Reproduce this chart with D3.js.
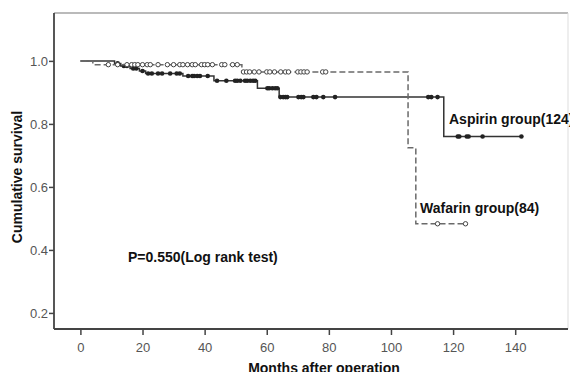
<!DOCTYPE html>
<html>
<head>
<meta charset="utf-8">
<script src="https://cdn.jsdelivr.net/npm/d3@7"></script>
<style>
  body { margin: 0; background: #fff; }
  svg { display: block; font-family: "Liberation Sans", Arial, sans-serif; }
</style>
</head>
<body>
<svg width="570" height="372"></svg>
<script>
// Kaplan-Meier step points
var aspirinTimes = [0, 11, 13, 16, 19, 21, 33, 43, 57, 64, 117];
var aspirinSurv = [1.0, 0.992, 0.984, 0.976, 0.968, 0.960, 0.952, 0.937, 0.913, 0.885, 0.760];
var aspirinEnd = 142;
var aspirinCensored = [12, 14, 15, 17, 18, 20, 21.8, 23, 25, 26.3, 28.9, 31, 32, 34.7, 36, 36.6, 37.6, 38.5, 41,
  44, 47, 49.8, 50.5, 51.5, 53, 53.7, 54.7, 55.6, 56.3, 60.2, 60.8, 61.8, 62.7, 63.4,
  64.4, 65.3, 66, 66.6, 70.2, 71.1, 71.8, 75, 76, 78.2, 82, 112, 113, 115,
  121.5, 122, 124.4, 125, 129.5, 142];

var wafarinTimes = [0, 4, 52, 105.5, 108];
var wafarinSurv = [1.0, 0.988, 0.965, 0.724, 0.483];
var wafarinEnd = 124;
var wafarinCensored = [9, 12, 15, 16.5, 17.5, 18.5, 20, 21.5, 22.5, 25, 28, 30, 32, 33, 34.5, 36, 37, 39, 40,
  41, 42.5, 45.5, 46.5, 49, 50.5, 52.5, 53.5, 54.5, 56, 57.5, 60, 61, 62.5, 64.5, 66, 67,
  70, 71, 72, 73, 78, 79, 115, 124];

var xTicks = [0, 20, 40, 60, 80, 100, 120, 140];
var yTicks = [0.2, 0.4, 0.6, 0.8, 1.0];

var svg = d3.select("svg");
var mLeft = 54, mRight = 568, mTop = 13, mBottom = 329;

var x = d3.scaleLinear().domain([-8.5, 157]).range([mLeft, mRight]);
var y = d3.scaleLinear().domain([0.149, 1.152]).range([mBottom, mTop]);

// frame
svg.append("line").attr("x1", mLeft).attr("x2", mRight).attr("y1", mTop).attr("y2", mTop)
  .attr("stroke", "#777").attr("stroke-width", 1.2);
svg.append("line").attr("x1", mRight).attr("x2", mRight).attr("y1", mTop).attr("y2", mBottom)
  .attr("stroke", "#ddd").attr("stroke-width", 1);

// axes
var xAxis = svg.append("g")
  .attr("transform", "translate(0," + mBottom + ")")
  .call(d3.axisBottom(x).tickValues(xTicks).tickFormat(d3.format("d")).tickSize(6).tickSizeOuter(0));
var yAxis = svg.append("g")
  .attr("transform", "translate(" + mLeft + ",0)")
  .call(d3.axisLeft(y).tickValues(yTicks).tickFormat(d3.format(".1f")).tickSize(5).tickSizeOuter(0));

[xAxis, yAxis].forEach(function(a) {
  a.select(".domain").attr("stroke", "#444").attr("stroke-width", 1.8);
  a.selectAll(".tick line").attr("stroke", "#444").attr("stroke-width", 1.5);
  a.selectAll(".tick text").attr("fill", "#555").attr("font-size", 13)
    .attr("font-family", "Liberation Sans, Arial, sans-serif");
});
yAxis.select(".domain").attr("d", "M0," + mTop + "V" + mBottom);
xAxis.select(".domain").attr("d", "M" + mLeft + ",0H" + mRight);
xAxis.selectAll(".tick text").attr("dy", "1.1em");
yAxis.selectAll(".tick text").attr("x", -6);

// survival lookup from the step data
function survAt(times, surv, t) {
  var i = d3.bisectRight(times, t) - 1;
  return surv[Math.max(i, 0)];
}

var line = d3.line().curve(d3.curveStepAfter)
  .x(function(d) { return x(d[0]); })
  .y(function(d) { return y(d[1]); });

var aspirinPts = aspirinTimes.map(function(t, i) { return [t, aspirinSurv[i]]; });
aspirinPts.push([aspirinEnd, aspirinSurv[aspirinSurv.length - 1]]);
var wafarinPts = wafarinTimes.map(function(t, i) { return [t, wafarinSurv[i]]; });
wafarinPts.push([wafarinEnd, wafarinSurv[wafarinSurv.length - 1]]);

svg.append("path").datum(aspirinPts).attr("d", line)
  .attr("fill", "none").attr("stroke", "#333").attr("stroke-width", 1.5);

svg.selectAll("circle.asp").data(aspirinCensored).enter().append("circle")
  .attr("class", "asp")
  .attr("cx", function(d) { return x(d); })
  .attr("cy", function(d) { return y(survAt(aspirinTimes, aspirinSurv, d)); })
  .attr("r", 2.3).attr("fill", "#222");

svg.append("path").datum(wafarinPts).attr("d", line)
  .attr("fill", "none").attr("stroke", "#6a6a6a").attr("stroke-width", 1.5)
  .attr("stroke-dasharray", "6,3");

svg.selectAll("circle.waf").data(wafarinCensored).enter().append("circle")
  .attr("class", "waf")
  .attr("cx", function(d) { return x(d); })
  .attr("cy", function(d) { return y(survAt(wafarinTimes, wafarinSurv, d)); })
  .attr("r", 2.2).attr("fill", "#fff").attr("stroke", "#444").attr("stroke-width", 1);

// labels
svg.append("text").attr("x", 449).attr("y", 124).attr("font-size", 14).attr("font-weight", "bold")
  .attr("fill", "#111").text("Aspirin group(124)");
svg.append("text").attr("x", 420).attr("y", 213).attr("font-size", 14).attr("font-weight", "bold")
  .attr("fill", "#111").text("Wafarin group(84)");
svg.append("text").attr("x", 128).attr("y", 262).attr("font-size", 14).attr("font-weight", "bold")
  .attr("fill", "#111").text("P=0.550(Log rank test)");

svg.append("text").attr("x", 324).attr("y", 373).attr("text-anchor", "middle")
  .attr("font-size", 14).attr("font-weight", "bold").attr("fill", "#111")
  .text("Months after operation");
svg.append("text").attr("transform", "translate(22,177) rotate(-90)").attr("text-anchor", "middle")
  .attr("font-size", 14).attr("font-weight", "bold").attr("fill", "#111")
  .text("Cumulative survival");
</script>
</body>
</html>
